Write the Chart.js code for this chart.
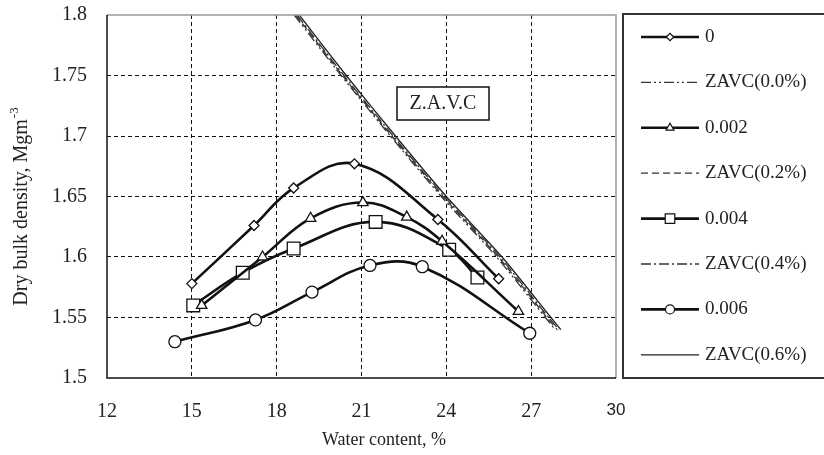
<!DOCTYPE html>
<html>
<head>
<meta charset="utf-8">
<script src="https://cdn.jsdelivr.net/npm/chart.js@4.4.1/dist/chart.umd.min.js"></script>
<style>
  html, body { margin: 0; padding: 0; background: #ffffff; }
  #wrap { width: 824px; height: 455px; position: relative; }
</style>
</head>
<body>
<div id="wrap"><canvas id="grafico" width="824" height="455"></canvas></div>
<script>
// Datos
const xTicks = [12, 15, 18, 21, 24, 27, 30];
const yTicks = [1.5, 1.55, 1.6, 1.65, 1.7, 1.75, 1.8];

const w0 = [15.0, 17.2, 18.6, 20.75, 23.7, 25.85];
const d0 = [1.578, 1.626, 1.657, 1.677, 1.631, 1.582];

const w002 = [15.35, 17.5, 19.2, 21.05, 22.6, 23.85, 26.55];
const d002 = [1.560, 1.600, 1.632, 1.645, 1.633, 1.613, 1.555];

const w004 = [15.05, 16.8, 18.6, 21.5, 24.1, 25.1];
const d004 = [1.560, 1.587, 1.607, 1.629, 1.606, 1.583];

const w006 = [14.4, 17.25, 19.25, 21.3, 23.15, 26.95];
const d006 = [1.530, 1.548, 1.571, 1.593, 1.592, 1.537];

const zavcD = [1.8, 1.75, 1.7, 1.65, 1.6, 1.55, 1.54];
const zavc00 = [18.62, 20.28, 22.02, 23.82, 25.78, 27.5, 27.85];
const zavc02 = [18.68, 20.33, 22.07, 23.88, 25.84, 27.56, 27.92];
const zavc04 = [18.72, 20.38, 22.12, 23.93, 25.9, 27.62, 27.98];
const zavc06 = [18.8, 20.46, 22.2, 24.0, 25.97, 27.7, 28.05];

function puntos(xs, ys) {
    return xs.map((x, i) => ({ x: x, y: ys[i] }));
}

const SERIF = "'Liberation Serif', 'Times New Roman', serif";

function serie(label, xs, ys, estilo, radio) {
    return {
        label: label,
        data: puntos(xs, ys),
        showLine: true,
        borderColor: '#111',
        borderWidth: 2.6,
        tension: 0.4,
        pointStyle: estilo,
        pointRadius: radio,
        pointBackgroundColor: '#fff',
        pointBorderColor: '#111',
        pointBorderWidth: 1.3,
        legendRadius: radio * 0.75
    };
}

function zavc(label, xs, dash, color) {
    return {
        label: label,
        data: puntos(xs, zavcD),
        showLine: true,
        borderColor: color,
        borderWidth: 1.3,
        borderDash: dash,
        tension: 0.2,
        pointRadius: 0,
        isZavc: true
    };
}

const datasets = [
    serie('0', w0, d0, 'rectRot', 5),
    zavc('ZAVC(0.0%)', zavc00, [10, 3, 2, 3, 2, 3], '#333'),
    serie('0.002', w002, d002, 'triangle', 6),
    zavc('ZAVC(0.2%)', zavc02, [7, 4], '#333'),
    serie('0.004', w004, d004, 'rect', 9),
    zavc('ZAVC(0.4%)', zavc04, [10, 3, 2, 3], '#333'),
    serie('0.006', w006, d006, 'circle', 6),
    zavc('ZAVC(0.6%)', zavc06, [], '#222')
];

// Marco, títulos, leyenda y etiqueta Z.A.V.C
const decoracion = {
    id: 'decoracion',
    afterDraw(chart) {
        const ctx = chart.ctx;
        const a = chart.chartArea;
        ctx.save();

        // marco del área
        ctx.lineWidth = 1.5;
        ctx.strokeStyle = '#999';
        ctx.beginPath();
        ctx.moveTo(a.left, a.top);
        ctx.lineTo(a.right, a.top);
        ctx.lineTo(a.right, a.bottom);
        ctx.stroke();
        ctx.strokeStyle = '#111';
        ctx.beginPath();
        ctx.moveTo(a.left, a.top);
        ctx.lineTo(a.left, a.bottom);
        ctx.lineTo(a.right, a.bottom);
        ctx.stroke();

        // caja Z.A.V.C
        ctx.fillStyle = '#fff';
        ctx.fillRect(397, 87, 92, 33);
        ctx.lineWidth = 1.5;
        ctx.strokeStyle = '#111';
        ctx.strokeRect(397, 87, 92, 33);
        ctx.fillStyle = '#222';
        ctx.font = '20px ' + SERIF;
        ctx.textAlign = 'center';
        ctx.textBaseline = 'middle';
        ctx.fillText('Z.A.V.C', 443, 104);

        // título eje x
        ctx.font = '18px ' + SERIF;
        ctx.fillText('Water content, %', 384, 440);

        // título eje y con superíndice
        ctx.save();
        ctx.translate(22, 207);
        ctx.rotate(-Math.PI / 2);
        const base = 'Dry bulk density, Mgm';
        ctx.font = '20px ' + SERIF;
        const wb = ctx.measureText(base).width;
        ctx.font = '13px ' + SERIF;
        const ws = ctx.measureText('-3').width;
        const x0 = -(wb + ws) / 2;
        ctx.textAlign = 'left';
        ctx.font = '20px ' + SERIF;
        ctx.fillText(base, x0, 0);
        ctx.font = '13px ' + SERIF;
        ctx.fillText('-3', x0 + wb + 1, -7);
        ctx.restore();

        // leyenda
        ctx.lineWidth = 2;
        ctx.strokeStyle = '#333';
        ctx.strokeRect(623, 14, 210, 364);
        const y0 = 37, paso = 45.4;
        chart.data.datasets.forEach((ds, i) => {
            const y = y0 + i * paso;
            ctx.save();
            ctx.strokeStyle = ds.borderColor;
            ctx.lineWidth = ds.borderWidth;
            ctx.setLineDash(ds.borderDash || []);
            ctx.beginPath();
            ctx.moveTo(641, y);
            ctx.lineTo(699, y);
            ctx.stroke();
            ctx.restore();
            if (!ds.isZavc) {
                ctx.save();
                ctx.fillStyle = '#fff';
                ctx.strokeStyle = '#111';
                ctx.lineWidth = 1.2;
                Chart.helpers.drawPoint(ctx, {
                    pointStyle: ds.pointStyle,
                    radius: ds.legendRadius,
                    borderWidth: 1.2,
                    rotation: 0
                }, 670, y);
                ctx.restore();
            }
            ctx.fillStyle = '#222';
            ctx.font = '19px ' + SERIF;
            ctx.textAlign = 'left';
            ctx.textBaseline = 'middle';
            ctx.fillText(ds.label, 705, y);
        });
        ctx.restore();
    }
};

function colorRejilla(c) {
    if (!c.tick) return 'rgba(0,0,0,0)';
    const v = c.tick.value;
    const ticks = c.scale.axis === 'x' ? xTicks : yTicks;
    if (Math.abs(v - ticks[0]) < 1e-6 || Math.abs(v - ticks[ticks.length - 1]) < 1e-6) {
        return 'rgba(0,0,0,0)';
    }
    return '#111';
}

new Chart(document.getElementById('grafico'), {
    type: 'scatter',
    data: { datasets: datasets },
    options: {
        responsive: false,
        animation: false,
        layout: { padding: { top: 15, right: 208, left: 0, bottom: 0 } },
        plugins: {
            legend: { display: false },
            tooltip: { enabled: false }
        },
        scales: {
            x: {
                type: 'linear',
                min: xTicks[0],
                max: xTicks[xTicks.length - 1],
                afterBuildTicks: s => { s.ticks = xTicks.map(v => ({ value: v })); },
                afterFit: s => { s.height = 77; s.paddingLeft = 0; s.paddingRight = 0; },
                border: { display: false, dash: [4, 3] },
                grid: {
                    color: colorRejilla,
                    lineWidth: 1,
                    drawTicks: false
                },
                ticks: {
                    padding: 22,
                    color: '#222',
                    maxRotation: 0,
                    font: c => (c.tick && c.tick.value === 30)
                        ? { family: "'Liberation Sans', Arial, sans-serif", size: 17 }
                        : { family: SERIF, size: 20 },
                    callback: v => String(v)
                }
            },
            y: {
                min: yTicks[0],
                max: yTicks[yTicks.length - 1],
                afterBuildTicks: s => { s.ticks = yTicks.map(v => ({ value: v })); },
                afterFit: s => { s.width = 107; s.paddingTop = 0; s.paddingBottom = 0; },
                border: { display: false, dash: [4, 3] },
                grid: {
                    color: colorRejilla,
                    lineWidth: 1,
                    drawTicks: false
                },
                ticks: {
                    padding: 20,
                    color: '#222',
                    font: { family: SERIF, size: 20 },
                    callback: v => String(+Number(v).toFixed(2))
                }
            }
        }
    },
    plugins: [decoracion]
});
</script>
</body>
</html>
